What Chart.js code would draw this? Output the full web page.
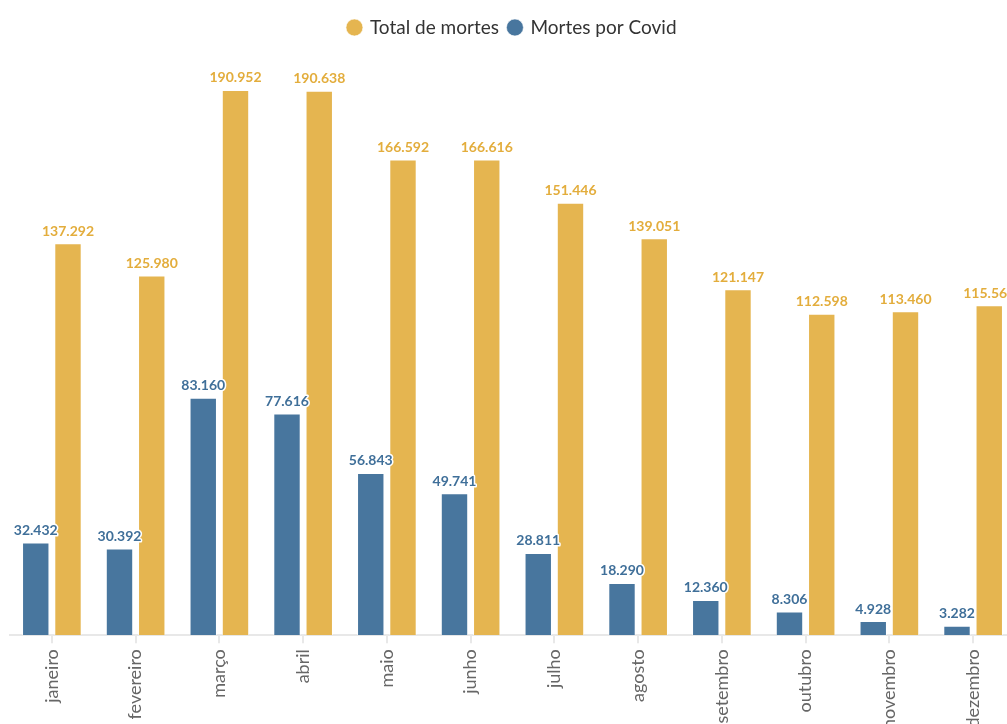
<!DOCTYPE html>
<html lang="pt-BR">
<head>
<meta charset="utf-8">
<title>Mortes por mês</title>
<script src="https://cdn.jsdelivr.net/npm/chart.js@4"></script>
<style>
  html, body { margin: 0; padding: 0; background: #fff; overflow: hidden; }
  .chart-box { position: relative; width: 1024px; height: 735px; }
</style>
</head>
<body>
<div class="chart-box">
  <canvas id="myChart" width="1024" height="735"></canvas>
</div>
<script>
const meses = ['janeiro', 'fevereiro', 'março', 'abril', 'maio', 'junho',
    'julho', 'agosto', 'setembro', 'outubro', 'novembro', 'dezembro'];
const mortesCovid = [32432, 30392, 83160, 77616, 56843, 49741, 28811, 18290, 12360, 8306, 4928, 3282];
const totalMortes = [137292, 125980, 190952, 190638, 166592, 166616, 151446, 139051, 121147, 112598, 113460, 115568];

const AZUL = '#48769e';
const AMARELO = '#e5b550';
const FONTE = 'Lato, "Open Sans", sans-serif';

// 137292 -> "137.292"
function formatBR(n) {
    return String(n).replace(/\B(?=(\d{3})+(?!\d))/g, '.');
}

// values written above each bar, with a white halo
const valueLabels = {
    id: 'valueLabels',
    afterDatasetsDraw(chart) {
        const ctx = chart.ctx;
        chart.data.datasets.forEach((ds, i) => {
            const meta = chart.getDatasetMeta(i);
            meta.data.forEach((bar, j) => {
                const text = formatBR(ds.data[j]);
                ctx.save();
                ctx.font = 'bold 14px ' + FONTE;
                ctx.textAlign = 'center';
                ctx.textBaseline = 'bottom';
                ctx.lineJoin = 'round';
                ctx.lineWidth = 3;
                ctx.strokeStyle = '#fff';
                ctx.strokeText(text, bar.x, bar.y - 5);
                ctx.fillStyle = ds.labelColor;
                ctx.fillText(text, bar.x, bar.y - 5);
                ctx.restore();
            });
        });
    }
};

const ctx = document.getElementById('myChart').getContext('2d');
const myChart = new Chart(ctx, {
    type: 'bar',
    data: {
        labels: meses,
        datasets: [{
            label: 'Mortes por Covid',
            data: mortesCovid,
            backgroundColor: AZUL,
            borderColor: 'rgba(255,255,255,0.6)',
            borderWidth: 1,
            labelColor: '#3f6f99'
        }, {
            label: 'Total de mortes',
            data: totalMortes,
            backgroundColor: AMARELO,
            borderColor: 'rgba(255,255,255,0.6)',
            borderWidth: 1,
            labelColor: '#e3ad3c'
        }]
    },
    options: {
        responsive: false,
        animation: false,
        categoryPercentage: 0.77,
        barPercentage: 0.85,
        layout: {
            padding: { top: 8, left: 10, right: 9, bottom: 0 }
        },
        plugins: {
            legend: {
                position: 'top',
                labels: {
                    usePointStyle: true,
                    pointStyle: 'circle',
                    boxWidth: 12,
                    boxHeight: 12,
                    padding: 10,
                    color: '#333',
                    font: { family: FONTE, size: 19 },
                    sort: (a, b) => b.datasetIndex - a.datasetIndex
                }
            },
            tooltip: { enabled: false }
        },
        scales: {
            x: {
                border: { color: '#e8e8e8', width: 2 },
                grid: {
                    offset: false,
                    drawOnChartArea: false,
                    drawTicks: true,
                    tickLength: 8,
                    color: '#e8e8e8',
                    lineWidth: 2
                },
                ticks: {
                    minRotation: 90,
                    maxRotation: 90,
                    padding: 6,
                    color: '#666',
                    font: { family: FONTE, size: 18 }
                }
            },
            y: {
                display: false,
                beginAtZero: true,
                max: 206000
            }
        }
    },
    plugins: [valueLabels]
});
</script>
</body>
</html>
